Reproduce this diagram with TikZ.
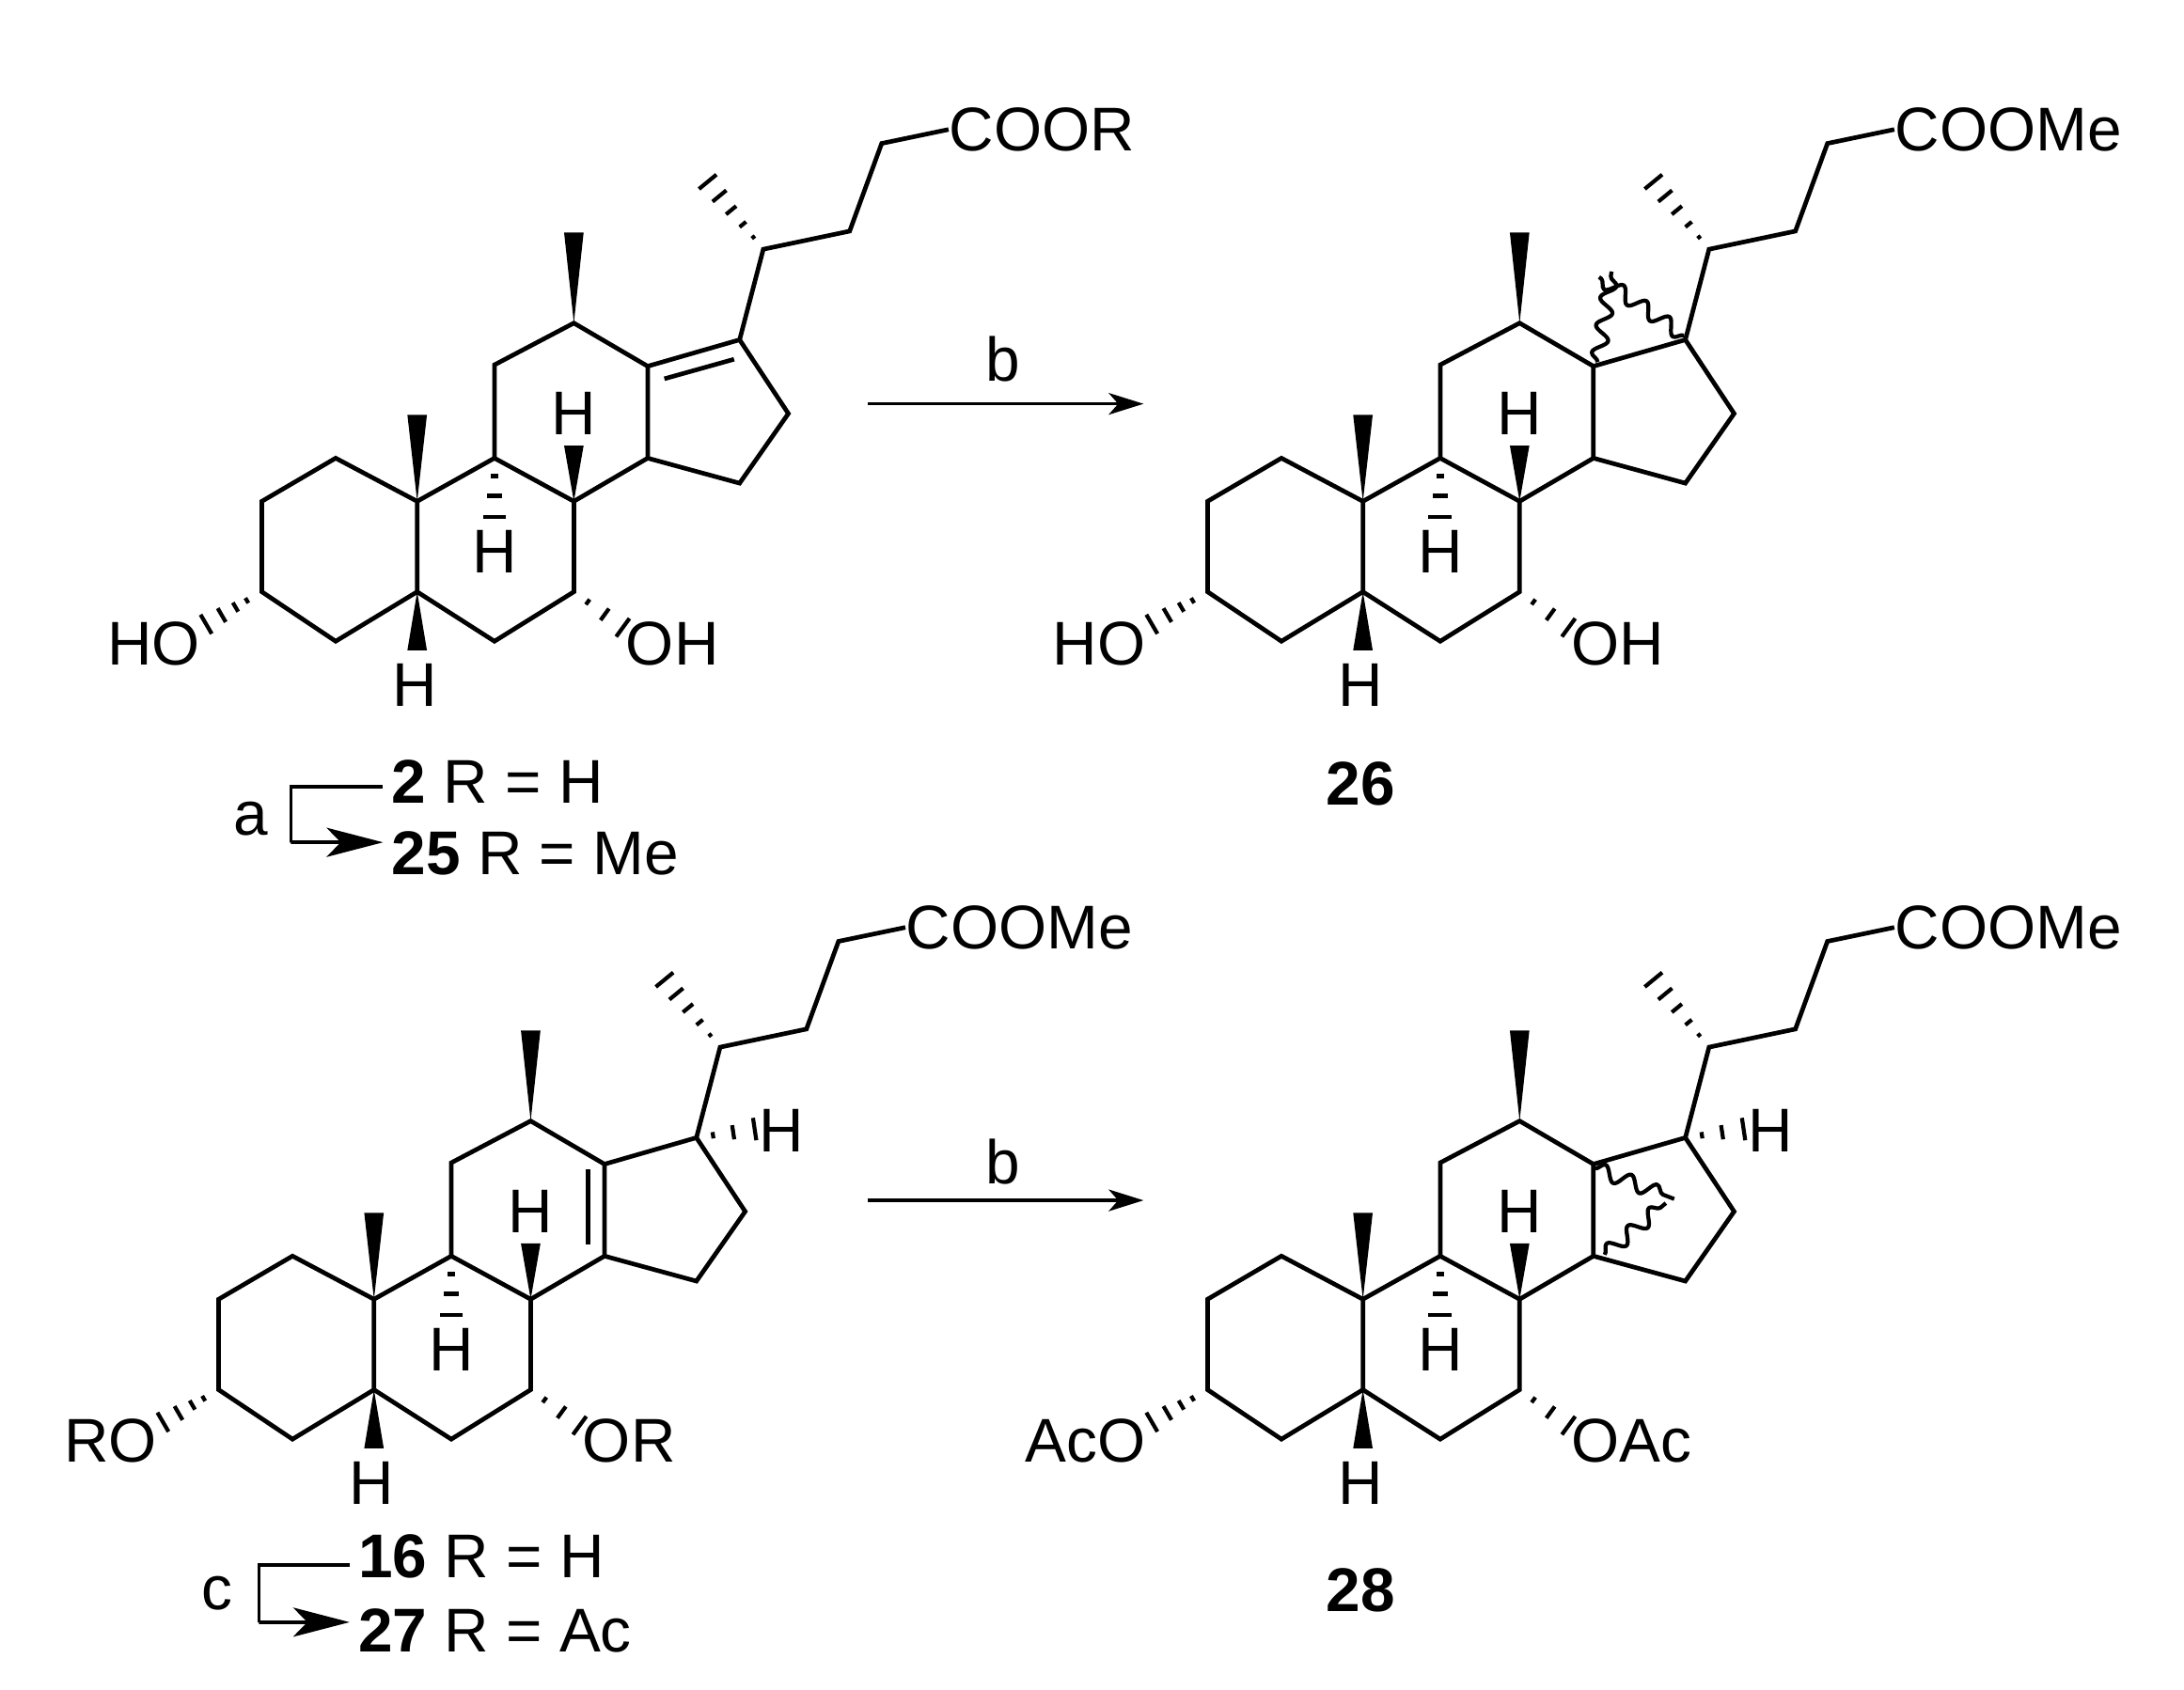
\documentclass[tikz,border=0pt]{standalone}
\usepackage{fontspec}
\setmainfont{Liberation Sans}
\usetikzlibrary{arrows.meta,calc,decorations.pathmorphing}
\tikzstyle{bond}=[line width=1.35pt]
\tikzstyle{atomlabel}=[inner sep=0pt,font=\fontsize{18.7}{20}\selectfont]
\tikzstyle{wavy}=[line width=1.2pt,line join=round,decorate,decoration={snake,amplitude=2.2pt,segment length=8.4pt}]
\tikzstyle{rxnarrow}=[-{Stealth[length=3.7mm,width=2.3mm,inset=1mm]},line width=1.05pt]
\tikzstyle{bracketarrow}=[-{Stealth[length=6mm,width=3.1mm,inset=1.5mm]},line width=1.05pt]
\tikzstyle{compound}=[inner sep=2.5pt,font=\fontsize{18.7}{20}\selectfont]

% wedge from the tip atom to the base point
\newcommand{\wedgebond}[2]{\fill ($(#2)!2.95pt!90:(#1)$) -- (#1) -- ($(#2)!2.95pt!-90:(#1)$) -- cycle;}
% hashed bond, #3 lists the strokes as fractions of the bond
\newcommand{\hashbond}[3]{\foreach \t [evaluate=\t as \w using 3.6*\t] in {#3}
  \draw[line width=1.2pt] ($(#1)!\t!(#2)!\w pt!90:(#2)$) -- ($(#1)!\t!(#2)!\w pt!-90:(#2)$);}
% the common skeleton: #1 left label, #2 right label, #3 label on the chain
\newcommand{\steroid}[3]{
	\coordinate (c1) at (241,329);
	\coordinate (c2) at (188,360);
	\coordinate (c3) at (188,425);
	\coordinate (c4) at (241,460.5);
	\coordinate (c5) at (299.5,425);
	\coordinate (c6) at (355,460.5);
	\coordinate (c7) at (412,425);
	\coordinate (c8) at (412,360);
	\coordinate (c9) at (355,329);
	\coordinate (c10) at (299.5,360);
	\coordinate (c11) at (355,262);
	\coordinate (c12) at (412,232);
	\coordinate (c13) at (465,263);
	\coordinate (c14) at (465,329);
	\coordinate (c15) at (531,347);
	\coordinate (c16) at (566,297);
	\coordinate (c17) at (531,244);
	\coordinate (c20) at (548,179);
	\coordinate (c22) at (610,166);
	\coordinate (c23) at (633,103);
	\coordinate (me18) at (412,167);
	\coordinate (me19) at (299.5,298);
	\coordinate (me21) at (506,128);
	\coordinate (h8w) at (412,320);
	\coordinate (h9w) at (355,372);
	\coordinate (h5w) at (299.5,467);
	\coordinate (o3) at (145,450);
	\coordinate (o7) at (449,452);
	\node[atomlabel] (h8) at (412,297) {H};
	\node[atomlabel] (h9) at (355,396) {H};
	\node[atomlabel] (h5) at (298,492) {H};
	\node[atomlabel,anchor=east] (left) at (144,462) {#1};
	\node[atomlabel,anchor=west] (right) at (449,462) {#2};
	\node[atomlabel,anchor=west] (chain) at (681,93) {#3};
	\draw[bond] (c1) -- (c2) -- (c3) -- (c4) -- (c5) -- (c10) -- cycle;
	\draw[bond] (c5) -- (c6) -- (c7) -- (c8) -- (c9) -- (c10);
	\draw[bond] (c9) -- (c11) -- (c12) -- (c13) -- (c14) -- (c8);
	\draw[bond] (c13) -- (c17) -- (c16) -- (c15) -- (c14);
	\draw[bond] (c17) -- (c20) -- (c22) -- (c23) -- (chain.west);
	\wedgebond{c12}{me18}
	\wedgebond{c10}{me19}
	\wedgebond{c8}{h8w}
	\wedgebond{c5}{h5w}
	\hashbond{c9}{h9w}{.3,.63,.98}
	\hashbond{c20}{me21}{.17,.35,.55,.75,.95}
	\hashbond{c3}{o3}{.25,.44,.67,.93}
	\hashbond{c7}{o7}{.27,.6,.95}
}
% hydrogen on C17 of the lower row
\newcommand{\sevenH}{
	\coordinate (h17w) at (575,237.5);
	\node[atomlabel] (h17) at (592,239) {H};
	\hashbond{c17}{h17w}{.27,.6,.95}
}

\begin{document}
\begin{tikzpicture}[x=.14815mm,y=-.14815mm]
	\useasboundingbox (0,0) rectangle (1568,1213);

	% top left
	\begin{scope}[name prefix=ene-]
		\steroid{HO}{OH}{COOR}
		\coordinate (db1) at (477,272);
		\coordinate (db2) at (527,258);
		\draw[bond] (db1) -- (db2);
	\end{scope}
	\node[compound,anchor=west] (two) at (275,561) {\textbf{2} R = H};
	\node[compound,anchor=west] (twofive) at (275,613) {\textbf{25} R = Me};
	\node[atomlabel] (a) at (180,588) {a};
	\coordinate (cornera) at (209,605);
	\draw[bracketarrow] ([yshift=-.6mm]two.west) -| (cornera) |- ([yshift=1.2mm]twofive.west);

	% top right
	\begin{scope}[shift={(679,0)},name prefix=cyc-]
		\steroid{HO}{OH}{COOMe}
		\coordinate (wa1) at (468,260);
		\coordinate (wa2) at (478,195);
		\coordinate (wb1) at (530,241);
		\coordinate (wb2) at (469,199);
		\draw[wavy] (wa1) -- (wa2);
		\draw[wavy] (wb1) -- (wb2);
	\end{scope}
	\node[compound] (twosix) at (977,563) {\textbf{26}};

	% bottom left
	\begin{scope}[shift={(-31,573)},name prefix=ester-]
		\steroid{RO}{OR}{COOMe}
		\sevenH
		\coordinate (db1) at (453,267);
		\coordinate (db2) at (453,321);
		\draw[bond] (db1) -- (db2);
	\end{scope}
	\node[compound,anchor=west] (onesix) at (251,1118) {\textbf{16} R = H};
	\node[compound,anchor=west] (twoseven) at (251,1171) {\textbf{27} R = Ac};
	\node[atomlabel] (c) at (156,1144) {c};
	\coordinate (cornerc) at (186,1165);
	\draw[bracketarrow] ([yshift=-.9mm]onesix.west) -| (cornerc) |- ([yshift=.9mm]twoseven.west);

	% bottom right
	\begin{scope}[shift={(679,573)},name prefix=ace-]
		\steroid{AcO}{OAc}{COOMe}
		\sevenH
		\coordinate (wa1) at (466,266);
		\coordinate (wa2) at (523,288);
		\coordinate (wb1) at (473,328);
		\coordinate (wb2) at (517,291);
		\draw[wavy] (wa1) -- (wa2);
		\draw[wavy] (wb1) -- (wb2);
	\end{scope}
	\node[compound] (twoeight) at (977,1142) {\textbf{28}};

	% reaction arrows
	\node[atomlabel] (b1) at (720,258) {b};
	\coordinate (r1s) at (623,290);
	\coordinate (r1e) at (821,290);
	\draw[rxnarrow] (r1s) -- (r1e);
	\node[atomlabel] (b2) at (720,834) {b};
	\coordinate (r2s) at (623,862);
	\coordinate (r2e) at (821,862);
	\draw[rxnarrow] (r2s) -- (r2e);
\end{tikzpicture}
\end{document}
